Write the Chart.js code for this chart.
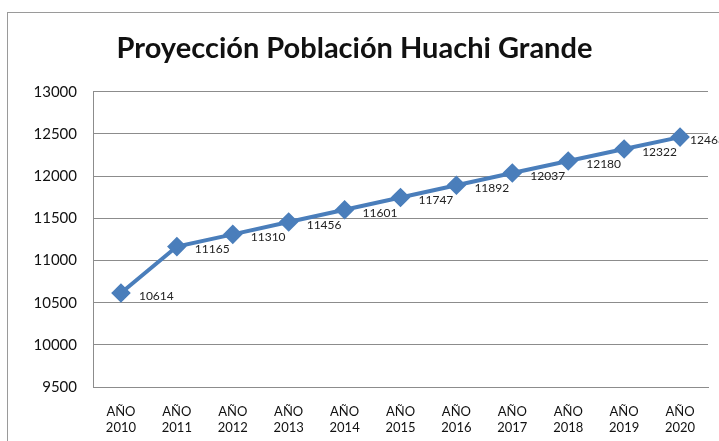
<!DOCTYPE html>
<html>
<head>
<meta charset="utf-8">
<script src="https://cdn.jsdelivr.net/npm/chart.js@4"></script>
<style>
  body { margin: 0; background: #fff; }
  #wrap { position: relative; width: 719px; height: 441px; }
</style>
</head>
<body>
<div id="wrap"><canvas id="poblacion" width="719" height="441"></canvas></div>
<script>
const years = ['2010','2011','2012','2013','2014','2015','2016','2017','2018','2019','2020'];
const labels = years.map(y => ['AÑO', y]);
const poblacion = [10614, 11165, 11310, 11456, 11601, 11747, 11892, 12037, 12180, 12322, 12463];

// marco exterior del grafico (estilo Excel)
const marco = {
    id: 'marco',
    beforeDraw(chart) {
        const ctx = chart.ctx;
        ctx.save();
        ctx.strokeStyle = '#9a9a9a';
        ctx.lineWidth = 1;
        ctx.strokeRect(7.5, 12.5, 800, 500);
        ctx.restore();
    }
};

// etiquetas de valores al lado de cada punto
const etiquetas = {
    id: 'etiquetas',
    afterDatasetsDraw(chart) {
        const ctx = chart.ctx;
        const meta = chart.getDatasetMeta(0);
        ctx.save();
        ctx.font = '12px Lato';
        ctx.fillStyle = '#222';
        ctx.textAlign = 'left';
        ctx.textBaseline = 'middle';
        meta.data.forEach((pt, i) => {
            const dx = i === meta.data.length - 1 ? 10 : 18;
            ctx.fillText(poblacion[i], pt.x + dx, pt.y + 3);
        });
        ctx.restore();
    }
};

const config = {
    type: 'line',
    data: {
        labels: labels,
        datasets: [{
            label: 'Población',
            data: poblacion,
            borderColor: 'rgb(74, 126, 187)',
            backgroundColor: 'rgb(74, 126, 187)',
            borderWidth: 4,
            pointStyle: 'rectRot',
            pointRadius: 7,
            pointHoverRadius: 7,
            tension: 0
        }]
    },
    options: {
        responsive: false,
        animation: false,
        layout: { padding: { right: 10, bottom: 0 } },
        plugins: {
            legend: { display: false },
            tooltip: { enabled: false },
            title: {
                display: true,
                text: 'Proyección Población Huachi Grande',
                color: '#111',
                font: { family: 'Lato', size: 29, weight: 'bold' },
                padding: { top: 31, bottom: 26 }
            }
        },
        scales: {
            x: {
                offset: true,
                grid: { display: false },
                border: { display: true, color: '#8c8c8c' },
                ticks: {
                    color: '#111',
                    font: { family: 'Lato', size: 13 },
                    padding: 9,
                    maxRotation: 0,
                    autoSkip: false
                },
                afterFit(scale) { scale.height = 54; }
            },
            y: {
                min: 9500,
                max: 13000,
                ticks: {
                    stepSize: 500,
                    color: '#111',
                    font: { family: 'Lato', size: 15 },
                    padding: 16,
                    callback: v => String(v)
                },
                grid: { color: '#8c8c8c', drawTicks: false },
                border: { display: true, color: '#8c8c8c' },
                afterFit(scale) { scale.width = 93; }
            }
        }
    },
    plugins: [marco, etiquetas]
};

const grafico = new Chart(document.getElementById('poblacion'), config);
</script>
</body>
</html>
